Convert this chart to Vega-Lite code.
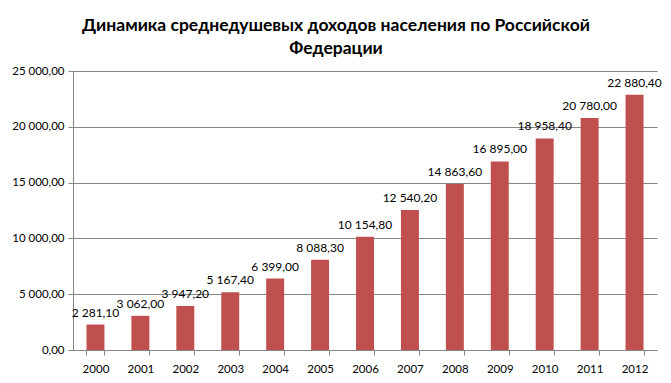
{
  "$schema": "https://vega.github.io/schema/vega-lite/v6.json",
  "autosize": "none",
  "width": 584,
  "height": 279,
  "padding": {"left": 73, "top": 71, "right": 14, "bottom": 33},
  "background": "white",
  "title": {
    "text": ["Динамика среднедушевых доходов населения по Российской", "Федерации"],
    "anchor": "middle",
    "frame": "group",
    "dx": -29,
    "offset": 8,
    "font": "Lato",
    "fontSize": 17.5,
    "fontWeight": "bold",
    "color": "#000000",
    "lineHeight": 23
  },
  "data": {
    "values": [
      {"year": "2000", "value": 2281.1},
      {"year": "2001", "value": 3062.0},
      {"year": "2002", "value": 3947.2},
      {"year": "2003", "value": 5167.4},
      {"year": "2004", "value": 6399.0},
      {"year": "2005", "value": 8088.3},
      {"year": "2006", "value": 10154.8},
      {"year": "2007", "value": 12540.2},
      {"year": "2008", "value": 14863.6},
      {"year": "2009", "value": 16895.0},
      {"year": "2010", "value": 18958.4},
      {"year": "2011", "value": 20780.0},
      {"year": "2012", "value": 22880.4}
    ]
  },
  "encoding": {
    "x": {
      "field": "year",
      "type": "ordinal",
      "scale": {"paddingInner": 0.6, "paddingOuter": 0.3},
      "axis": {
        "title": null,
        "labelAngle": 0,
        "tickBand": "extent",
        "domainColor": "#868686",
        "tickColor": "#868686",
        "tickSize": 5,
        "labelFont": "Lato",
        "labelFontSize": 11.5,
        "labelColor": "#000000",
        "labelPadding": 8
      }
    },
    "y": {
      "field": "value",
      "type": "quantitative",
      "scale": {"domain": [0, 25000]},
      "axis": {
        "title": null,
        "values": [0, 5000, 10000, 15000, 20000, 25000],
        "format": ",.2f",
        "domainColor": "#868686",
        "tickColor": "#868686",
        "tickSize": 5,
        "gridColor": "#868686",
        "labelFont": "Lato",
        "labelFontSize": 11.5,
        "labelColor": "#000000",
        "labelPadding": 4
      }
    }
  },
  "layer": [
    {"mark": {"type": "bar", "color": "#C0504D"}},
    {
      "mark": {"type": "text", "baseline": "bottom", "dy": -5, "font": "Lato", "fontSize": 12, "color": "#000000"},
      "encoding": {"text": {"field": "value", "type": "quantitative", "format": ",.2f"}}
    }
  ],
  "config": {
    "view": {"stroke": null},
    "locale": {"number": {"decimal": ",", "thousands": " ", "grouping": [3], "currency": ["", ""]}}
  }
}
